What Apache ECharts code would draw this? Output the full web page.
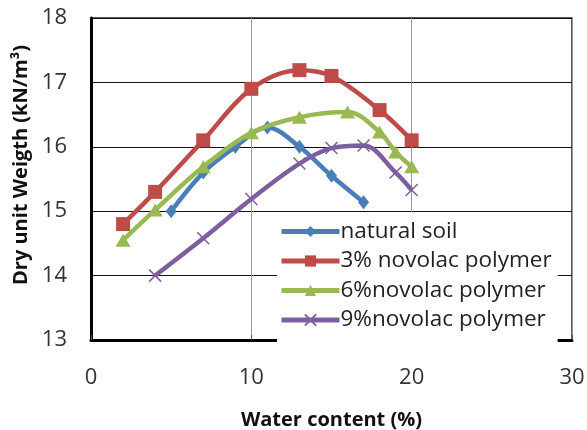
<!DOCTYPE html>
<html><head><meta charset="utf-8">
<script src="https://cdn.jsdelivr.net/npm/echarts@6/dist/echarts.min.js"></script>
<style>html,body{margin:0;padding:0;background:#fff}#c{width:587px;height:430px}</style>
</head><body><div id="c"></div>
<script>
var seriesNames = ['natural soil', '3% novolac polymer', '6%novolac polymer', '9%novolac polymer'];
var naturalX = [5, 7, 9, 11, 13, 15, 17];
var naturalY = [15.0, 15.6, 16.0, 16.3, 16.0, 15.55, 15.14];
var nov3X = [2, 4, 7, 10, 13, 15, 18, 20];
var nov3Y = [14.8, 15.3, 16.1, 16.9, 17.19, 17.1, 16.57, 16.1];
var nov6X = [2, 4, 7, 10, 13, 16, 18, 19, 20];
var nov6Y = [14.55, 15.02, 15.69, 16.22, 16.46, 16.54, 16.23, 15.92, 15.69];
var nov9X = [4, 7, 10, 13, 15, 17, 19, 20];
var nov9Y = [14.0, 14.58, 15.19, 15.74, 15.98, 16.02, 15.6, 15.33];
var xTicks = [0, 10, 20, 30];
var yTicks = [13, 14, 15, 16, 17, 18];

function pairs(xs, ys) { return xs.map(function (x, i) { return [x, ys[i]]; }); }
var colors = ['#4A7EBB', '#BE4B48', '#98B954', '#7D5FA0'];
var symbols = ['diamond', 'rect', 'triangle', 'path://M0,0L10,10M10,0L0,10'];
var sizes = [[11, 14], 14, [15, 13], 12];
var datasets = [pairs(naturalX, naturalY), pairs(nov3X, nov3Y), pairs(nov6X, nov6Y), pairs(nov9X, nov9Y)];
var font = '"Open Sans", "Liberation Sans", sans-serif';

var series = datasets.map(function (d, i) {
  var s = {
    name: seriesNames[i], type: 'line', data: d, smooth: 0.35,
    symbol: symbols[i], symbolSize: sizes[i],
    lineStyle: { color: colors[i], width: 4.5 },
    itemStyle: { color: colors[i] },
    z: 3 + i
  };
  if (i === 3) {
    s.itemStyle = { color: 'rgba(0,0,0,0)', borderColor: colors[i], borderWidth: 1.5 };
  }
  return s;
});

var chart = echarts.init(document.getElementById('c'), null, { renderer: 'canvas' });
chart.setOption({
  animation: false,
  backgroundColor: '#fff',
  grid: { left: 91, right: 15, top: 18, bottom: 90, show: true, borderColor: '#222', borderWidth: 1.5, backgroundColor: 'transparent', outerBoundsMode: 'none', containLabel: false },
  legend: {
    orient: 'vertical', left: 277, top: 212, width: 291,
    backgroundColor: '#fff', padding: [8, 6, 12, 2],
    itemWidth: 58, itemHeight: 14, itemGap: 6.5,
    lineStyle: { width: 5 },
    textStyle: { fontFamily: font, fontSize: 22.5, color: '#222', lineHeight: 22, padding: [0, 0, 0, -4] },
    data: seriesNames
  },
  xAxis: {
    type: 'value', min: 0, max: 30, interval: 10,
    name: 'Water content (%)', nameLocation: 'middle', nameGap: 70,
    nameTextStyle: { fontFamily: font, fontSize: 20, fontWeight: 'bold', color: '#111' },
    axisLine: { show: true, onZero: false, lineStyle: { color: '#000', width: 3 } },
    axisTick: { show: true, inside: true, length: 5, lineStyle: { color: '#555' } },
    axisLabel: { margin: 27, fontFamily: font, fontSize: 22, color: '#333' },
    splitLine: { show: true, lineStyle: { color: '#999', width: 1 } }
  },
  yAxis: {
    type: 'value', min: 13, max: 18, interval: 1,
    name: 'Dry unit Weigth (kN/m\u00B3)', nameLocation: 'middle', nameGap: 60,
    nameTextStyle: { fontFamily: font, fontSize: 20, fontWeight: 'bold', color: '#111', padding: [0, 0, 0, 28] },
    axisLine: { show: true, onZero: false, lineStyle: { color: '#000', width: 3 } },
    axisTick: { show: false },
    axisLabel: { margin: 24, fontFamily: font, fontSize: 22, color: '#333' },
    splitLine: { show: true, lineStyle: { color: '#111', width: 1 } }
  },
  series: series
});
</script>
</body></html>
